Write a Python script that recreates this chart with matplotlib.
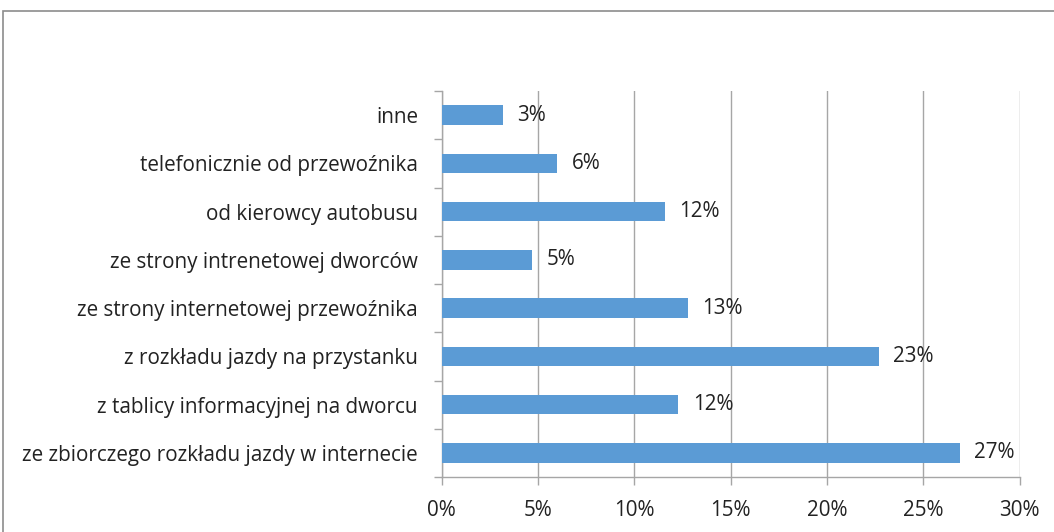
import matplotlib
matplotlib.use("Agg")
import matplotlib.pyplot as plt
from matplotlib.patches import Rectangle
from matplotlib.ticker import FixedLocator, FuncFormatter

# Sources of timetable information (share of answers, %)
categories = [
    "ze zbiorczego rozkładu jazdy w internecie",
    "z tablicy informacyjnej na dworcu",
    "z rozkładu jazdy na przystanku",
    "ze strony internetowej przewoźnika",
    "ze strony intrenetowej dworców",
    "od kierowcy autobusu",
    "telefonicznie od przewoźnika",
    "inne",
]
values = [26.9, 12.3, 22.7, 12.8, 4.7, 11.6, 6.0, 3.2]
x_ticks = [0, 5, 10, 15, 20, 25, 30]

plt.rcParams["font.family"] = ["Open Sans", "DejaVu Sans"]
FS = 14.9
BAR_COLOR = "#5B9BD5"
GRID_COLOR = "#A6A6A6"
TEXT_COLOR = "#222222"
TICK_LEN = 5.6  # points

fig = plt.figure(figsize=(10.54, 5.32), dpi=100)
fig.patch.set_facecolor("white")

# outer chart frame (runs off the right and bottom edges)
fig.patches.append(Rectangle((3 / 1054, -0.2), 1.2, 1 - 11 / 532 + 0.2,
                             transform=fig.transFigure, fill=False,
                             edgecolor="#8C8C8C", linewidth=1.2, zorder=0))

ax = fig.add_axes([441.5 / 1054, 1 - 477 / 532, (1019.5 - 441.5) / 1054, (477 - 91) / 532])

pos = list(range(len(categories)))
bars = ax.barh(pos, values, height=0.4, color=BAR_COLOR, zorder=3)

for b, v in zip(bars, values):
    ax.text(b.get_width() + 0.75, b.get_y() + b.get_height() / 2, f"{v:.0f}%",
            va="center", ha="left", fontsize=FS, color=TEXT_COLOR, zorder=4)

ax.set_xlim(0, 30)
ax.set_ylim(-0.5, len(categories) - 0.5)
ax.xaxis.set_major_locator(FixedLocator(x_ticks))
ax.xaxis.set_major_formatter(FuncFormatter(lambda x, _: f"{x:.0f}%"))
ax.grid(axis="x", color=GRID_COLOR, linewidth=1.0, zorder=0)
ax.set_axisbelow(True)

# category labels centred on bars, tick marks at category boundaries
ax.set_yticks(pos)
ax.set_yticklabels(categories)
ax.yaxis.set_minor_locator(FixedLocator([p - 0.5 for p in pos] + [len(pos) - 0.5]))
ax.tick_params(axis="y", which="major", length=0, pad=17, labelsize=FS, labelcolor=TEXT_COLOR)
ax.tick_params(axis="y", which="minor", length=TICK_LEN, width=1, color=GRID_COLOR, direction="out")
ax.tick_params(axis="x", which="major", length=TICK_LEN, width=1, color=GRID_COLOR,
               direction="out", pad=11, labelsize=FS, labelcolor=TEXT_COLOR)

for side in ("top", "right"):
    ax.spines[side].set_visible(False)
for side in ("left", "bottom"):
    ax.spines[side].set_color(GRID_COLOR)
    ax.spines[side].set_linewidth(1.0)

fig.savefig("out.png", dpi=100, facecolor="white")
